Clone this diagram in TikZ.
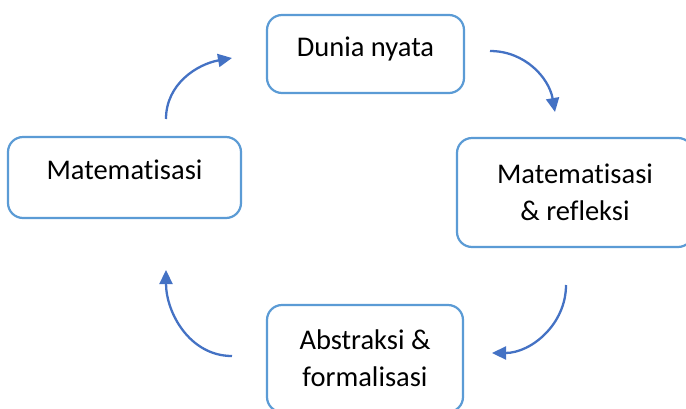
\documentclass[tikz,border=0pt]{standalone}
\usepackage{fontspec}
\setmainfont{Carlito}[Ligatures={NoCommon}]
\usetikzlibrary{arrows.meta}
\definecolor{boxblue}{HTML}{5B9BD5}
\definecolor{arrblue}{HTML}{4472C4}
\begin{document}
\begin{tikzpicture}[x=1pt,y=1pt,
  box/.style={draw=boxblue, line width=2.2pt, rounded corners=15pt, fill=white,
    font=\fontsize{28.5}{37}\selectfont, align=center, inner sep=0pt},
  onebox/.style={box, text height=18pt, text depth=14pt},
  cyc/.style={draw=arrblue, line width=2.3pt, -{Triangle[length=14pt,width=13pt]}}]
\useasboundingbox (0,0) rectangle (686,-408);
\clip (0,0) rectangle (686,-408);
\node[onebox, minimum width=197pt, minimum height=78pt] (dunia) at (365.5,-54) {Dunia nyata};
\node[box, minimum width=236pt, minimum height=109pt] (refl) at (575,-192.5) {Matematisasi\\ \& refleksi};
\node[box, minimum width=196pt, minimum height=107pt] (abst) at (365,-358.5) {Abstraksi \&\\ formalisasi};
\node[onebox, minimum width=233pt, minimum height=81pt] (mat) at (124.5,-177.5) {Matematisasi};
\coordinate (a1s) at (490,-51);
\coordinate (a1e) at (555,-112);
\coordinate (a2s) at (566,-285);
\coordinate (a2e) at (492,-353);
\coordinate (a3s) at (232,-356);
\coordinate (a3e) at (166,-270);
\coordinate (a4s) at (166,-119);
\coordinate (a4e) at (232,-58);
\draw[cyc] (a1s) to[out=0,in=100] (a1e);
\draw[cyc] (a2s) to[out=-90,in=0] (a2e);
\draw[cyc] (a3s) to[out=180,in=-90] (a3e);
\draw[cyc] (a4s) to[out=90,in=190] (a4e);
\end{tikzpicture}
\end{document}
